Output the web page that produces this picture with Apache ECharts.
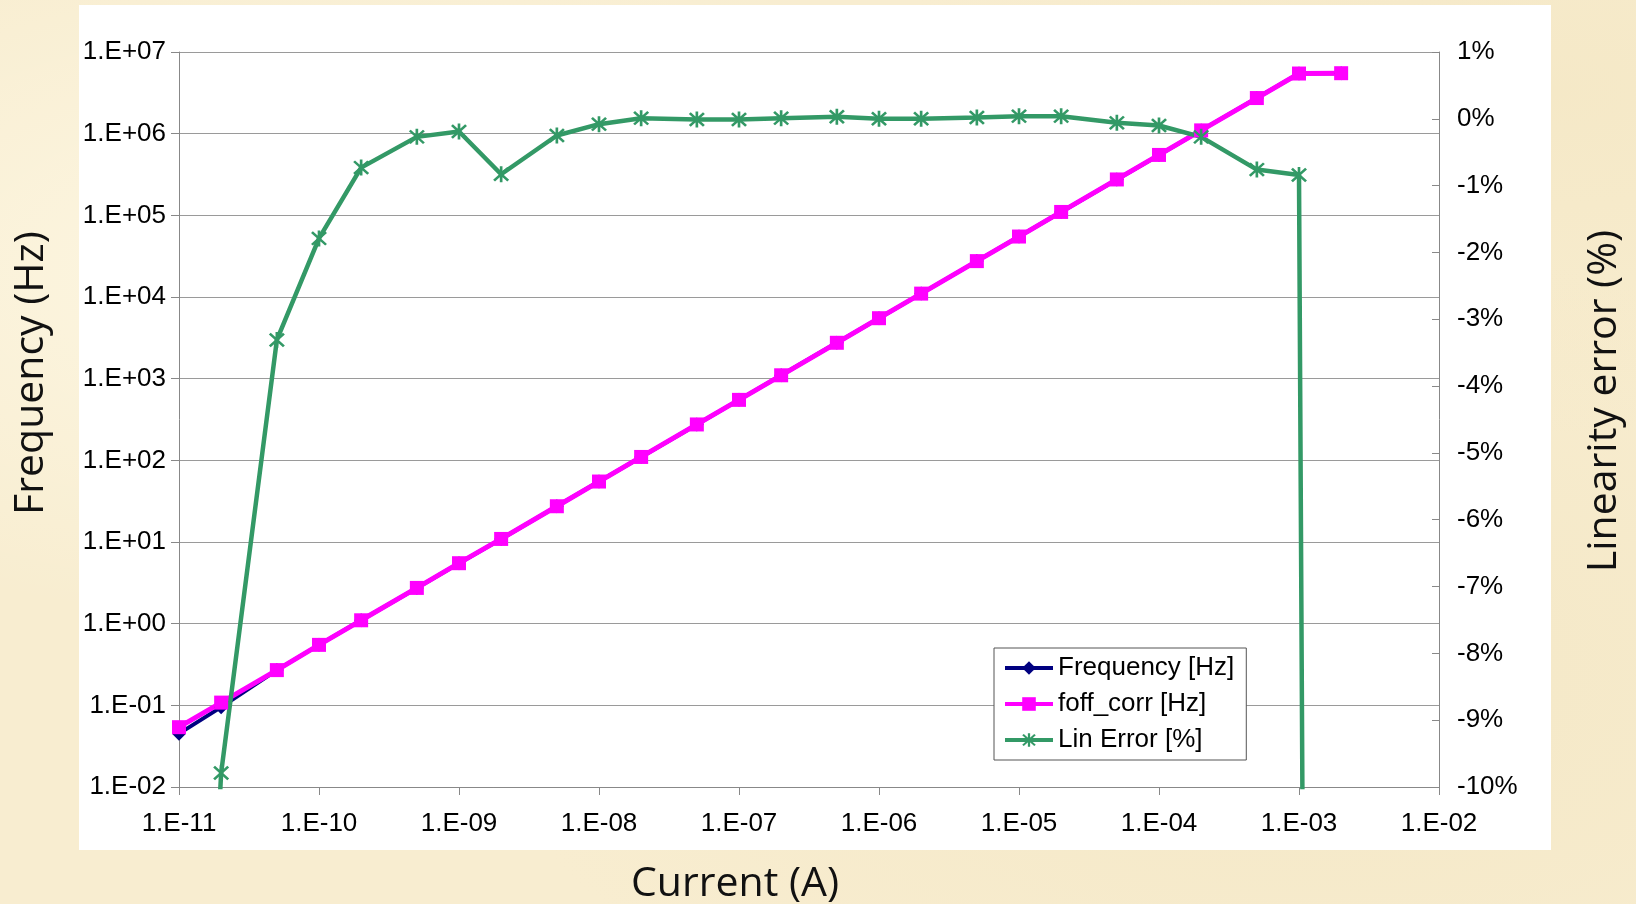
<!DOCTYPE html>
<html>
<head>
<meta charset="utf-8">
<title>Frequency / linearity vs current</title>
<script src="https://cdn.jsdelivr.net/npm/echarts@6/dist/echarts.min.js"></script>
<style>
	html, body { margin: 0; padding: 0; }
	body {
		width: 1636px; height: 904px; overflow: hidden; position: relative;
		background: #f8edd0;
		background-image: radial-gradient(ellipse at 20% 30%, rgba(255,251,235,0.7), rgba(255,251,235,0) 40%),
			radial-gradient(ellipse at 80% 75%, rgba(240,226,188,0.5), rgba(240,226,188,0) 45%),
			radial-gradient(ellipse at 95% 10%, rgba(242,228,190,0.5), rgba(242,228,190,0) 30%);
	}
	#panel { position: absolute; left: 79px; top: 5px; width: 1472px; height: 845px; background: #fff; }
	#chart { position: absolute; left: 0; top: 0; width: 1636px; height: 904px; }
</style>
</head>
<body>
<div id="panel"></div>
<div id="chart"></div>
<script>
	// current steps (A)
	var currents = [1e-11, 2e-11, 5e-11, 1e-10, 2e-10, 5e-10, 1e-9, 2e-9, 5e-9, 1e-8, 2e-8, 5e-8, 1e-7,
		2e-7, 5e-7, 1e-6, 2e-6, 5e-6, 1e-5, 2e-5, 5e-5, 1e-4, 2e-4, 5e-4, 1e-3, 2e-3];

	// raw frequency [Hz]
	var freqHz = [0.045, 0.095, 0.27, 0.55, 1.1, 2.74, 5.5, 10.9, 27.4, 55, 110, 275, 550,
		1100, 2750, 5500, 11000, 27500, 55000, 110000, 275000, 549000, 1097000, 2730000, 5450000, 5500000];

	// offset corrected frequency [Hz]
	var foffCorr = [0.054, 0.108, 0.27, 0.55, 1.1, 2.74, 5.5, 10.9, 27.4, 55, 110, 275, 550,
		1100, 2750, 5500, 11000, 27500, 55000, 110000, 275000, 549000, 1097000, 2730000, 5450000, 5500000];

	// linearity error [%]  (first and last points are far off scale)
	var linError = [-22, -9.79, -3.31, -1.79, -0.73, -0.27, -0.19, -0.83, -0.25, -0.08, 0.01, -0.01, -0.01,
		0.01, 0.03, 0.0, 0.0, 0.02, 0.04, 0.04, -0.06, -0.10, -0.27, -0.76, -0.84, -115];

	var xTickLabels = ['1.E-11', '1.E-10', '1.E-09', '1.E-08', '1.E-07', '1.E-06', '1.E-05', '1.E-04', '1.E-03', '1.E-02'];
	var yTickLabels = ['1.E-02', '1.E-01', '1.E+00', '1.E+01', '1.E+02', '1.E+03', '1.E+04', '1.E+05', '1.E+06', '1.E+07'];
	var y2TickLabels = ['-10%', '-9%', '-8%', '-7%', '-6%', '-5%', '-4%', '-3%', '-2%', '-1%', '0%', '1%'];

	var seriesNames = ['Frequency [Hz]', 'foff_corr [Hz]', 'Lin Error [%]'];

	function pairs(ys) {
		var out = [];
		for (var i = 0; i < currents.length; i++) {
			out.push([currents[i], ys[i]]);
		}
		return out;
	}

	// asterisk marker: vertical bar + two diagonals
	var starSymbol = 'path://M8.5 0 L11.5 0 L11.5 20 L8.5 20 Z M1.0 3.1 L3.1 1.0 L19.0 16.9 L16.9 19.0 Z M16.9 1.0 L19.0 3.1 L3.1 19.0 L1.0 16.9 Z';

	var labelFont = { color: '#000', fontFamily: 'Liberation Sans', fontSize: 26 };
	var axisGrey = '#888';
	var gridGrey = '#9a9a9a';

	var chart = echarts.init(document.getElementById('chart'), null, { renderer: 'canvas' });

	chart.setOption({
		animation: false,
		backgroundColor: 'transparent',
		grid: { left: 179, top: 52, width: 1260, height: 735 },
		legend: {
			data: seriesNames,
			orient: 'vertical',
			left: 994,
			top: 648,
			backgroundColor: '#fff',
			borderColor: '#555',
			borderWidth: 1,
			padding: [7, 12, 7, 9],
			itemWidth: 48,
			itemHeight: 17,
			itemGap: 10,
			lineStyle: { width: 4 },
			textStyle: { color: '#000', fontFamily: 'Liberation Sans', fontSize: 26 }
		},
		xAxis: {
			type: 'log',
			logBase: 10,
			min: 1e-11,
			max: 1e-2,
			splitNumber: 9,
			axisLine: { onZero: false, lineStyle: { color: axisGrey, width: 1 } },
			axisTick: { show: true, length: 8, lineStyle: { color: axisGrey } },
			splitLine: { show: false },
			minorTick: { show: false },
			axisLabel: Object.assign({
				margin: 24,
				formatter: function (v) {
					var e = Math.round(Math.log10(v));
					return xTickLabels[e + 11];
				}
			}, labelFont)
		},
		yAxis: [{
			type: 'log',
			logBase: 10,
			min: 1e-2,
			max: 1e7,
			splitNumber: 9,
			position: 'left',
			axisLine: { show: true, onZero: false, lineStyle: { color: axisGrey, width: 1 } },
			axisTick: { show: true, length: 8, lineStyle: { color: axisGrey } },
			splitLine: { show: true, lineStyle: { color: gridGrey, width: 1 } },
			axisLabel: Object.assign({
				margin: 13,
				formatter: function (v) {
					var e = Math.round(Math.log10(v));
					return yTickLabels[e + 2];
				}
			}, labelFont)
		}, {
			type: 'value',
			min: -10,
			max: 1,
			interval: 1,
			position: 'right',
			axisLine: { show: true, onZero: false, lineStyle: { color: axisGrey, width: 1 } },
			axisTick: { show: true, inside: true, length: 7, lineStyle: { color: axisGrey } },
			splitLine: { show: false },
			axisLabel: Object.assign({
				margin: 18,
				formatter: function (v) {
					return y2TickLabels[Math.round(v) + 10];
				}
			}, labelFont)
		}],
		graphic: [{
			type: 'text',
			x: 31, y: 373,
			rotation: Math.PI / 2,
			style: { text: 'Frequency (Hz)', align: 'center', verticalAlign: 'middle', fill: '#111',
				font: '41px "Open Sans"' }
		}, {
			type: 'text',
			x: 735, y: 884,
			style: { text: 'Current (A)', align: 'center', verticalAlign: 'middle', fill: '#111',
				font: '41px "Open Sans"' }
		}, {
			type: 'text',
			x: 1604, y: 401,
			rotation: Math.PI / 2,
			style: { text: 'Linearity error (%)', align: 'center', verticalAlign: 'middle', fill: '#111',
				font: '41px "Open Sans"' }
		}],
		series: [{
			name: seriesNames[0],
			type: 'line',
			yAxisIndex: 0,
			data: pairs(freqHz),
			symbol: 'diamond',
			symbolSize: 14,
			lineStyle: { color: '#000080', width: 4 },
			itemStyle: { color: '#000080' }
		}, {
			name: seriesNames[1],
			type: 'line',
			yAxisIndex: 0,
			data: pairs(foffCorr),
			symbol: 'rect',
			symbolSize: 14,
			lineStyle: { color: '#ff00ff', width: 5 },
			itemStyle: { color: '#ff00ff' }
		}, {
			name: seriesNames[2],
			type: 'line',
			yAxisIndex: 1,
			data: pairs(linError),
			clip: true,
			symbol: starSymbol,
			symbolSize: 16,
			lineStyle: { color: '#339966', width: 4.5 },
			itemStyle: { color: '#339966' }
		}]
	});
</script>
</body>
</html>
